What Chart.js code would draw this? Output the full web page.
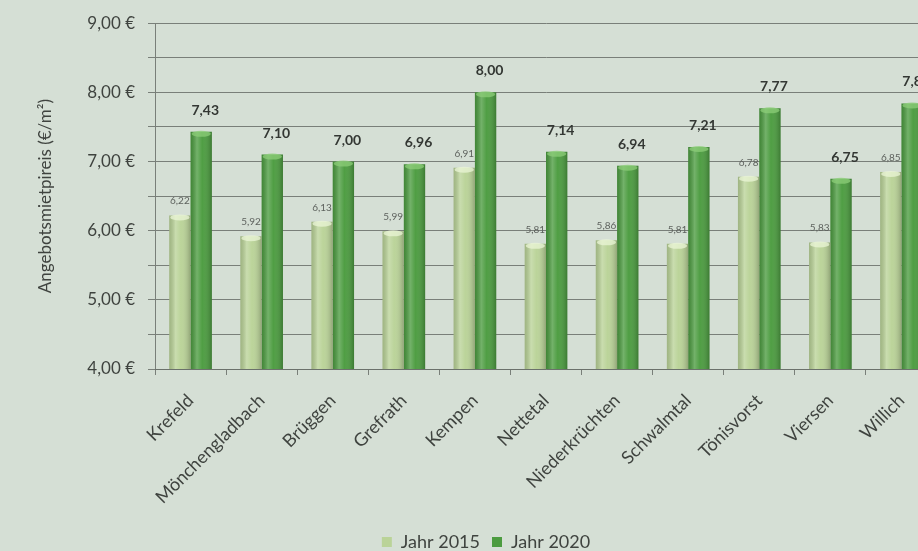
<!DOCTYPE html>
<html lang="de">
<head>
<meta charset="utf-8">
<title>Angebotsmietpreise 2015 und 2020</title>
<script src="https://cdn.jsdelivr.net/npm/chart.js@4.4.1/dist/chart.umd.min.js"></script>
<style>
  html, body { margin: 0; padding: 0; background: #d5dfd5; overflow: hidden; }
  #wrap { width: 994px; height: 551px; }
</style>
</head>
<body>
<div id="wrap"><canvas id="chart" width="994" height="551"></canvas></div>
<script>
// Gemeinden im Kreis Viersen und Nachbarstädte
const categories = ['Krefeld', 'Mönchengladbach', 'Brüggen', 'Grefrath', 'Kempen', 'Nettetal',
  'Niederkrüchten', 'Schwalmtal', 'Tönisvorst', 'Viersen', 'Willich'];

// Angebotsmietpreise in €/m²
const values2015 = [6.22, 5.92, 6.13, 5.99, 6.91, 5.81, 5.86, 5.81, 6.78, 5.83, 6.85];
const values2020 = [7.43, 7.10, 7.00, 6.96, 8.00, 7.14, 6.94, 7.21, 7.77, 6.75, 7.84];

const seriesNames = ['Jahr 2015', 'Jahr 2020'];
const yMajorTicks = [4, 5, 6, 7, 8, 9];

const FONT = 'Lato, "Open Sans", sans-serif';
const TEXT = '#3f433f';
const GRID = 'rgba(105,110,105,0.85)';

const fmt = v => v.toFixed(2).replace('.', ',');

// canvas background
const bgPlugin = {
  id: 'bg',
  beforeDraw(chart) {
    const c = chart.ctx;
    c.save();
    c.fillStyle = '#d5dfd5';
    c.fillRect(0, 0, chart.width, chart.height);
    c.restore();
  }
};

// rounded shading and light cap on every bar, then the value labels
const barDecor = {
  id: 'barDecor',
  afterDatasetsDraw(chart) {
    const c = chart.ctx;
    const bottom = chart.chartArea.bottom;
    c.save();
    chart.data.datasets.forEach((ds, di) => {
      const meta = chart.getDatasetMeta(di);
      meta.data.forEach(bar => {
        const w = bar.width;
        const left = bar.x - w / 2;
        const g = c.createLinearGradient(left, 0, left + w, 0);
        g.addColorStop(0, 'rgba(0,0,0,0.14)');
        g.addColorStop(0.3, 'rgba(255,255,255,0.22)');
        g.addColorStop(0.55, 'rgba(255,255,255,0.02)');
        g.addColorStop(1, 'rgba(0,0,0,0.22)');
        c.fillStyle = g;
        c.fillRect(left, bar.y, w, bottom - bar.y);
        c.beginPath();
        c.ellipse(bar.x, bar.y + 2, w / 2 - 1, 3, 0, 0, Math.PI * 2);
        c.fillStyle = di === 0 ? 'rgba(235,245,215,0.75)' : 'rgba(140,205,120,0.75)';
        c.fill();
      });
    });
    chart.data.datasets.forEach((ds, di) => {
      const meta = chart.getDatasetMeta(di);
      meta.data.forEach((bar, i) => {
        const v = ds.data[i];
        c.textAlign = 'center';
        c.textBaseline = 'alphabetic';
        if (di === 0) {
          c.font = '10px ' + FONT;
          c.fillStyle = '#5e625e';
          c.fillText(fmt(v), bar.x, bar.y - 11);
        } else {
          c.font = 'bold 14px ' + FONT;
          c.fillStyle = '#333733';
          c.fillText(fmt(v), bar.x + 4, bar.y - 17);
        }
      });
    });
    c.restore();
  }
};

new Chart(document.getElementById('chart'), {
  type: 'bar',
  data: {
    labels: categories,
    datasets: [
      { label: seriesNames[0], data: values2015, backgroundColor: '#bad398', borderWidth: 0 },
      { label: seriesNames[1], data: values2020, backgroundColor: '#4c9c40', borderWidth: 0 }
    ]
  },
  options: {
    responsive: false,
    animation: false,
    events: [],
    layout: { padding: { top: 13, left: 35, right: 57, bottom: -10 } },
    datasets: { bar: { categoryPercentage: 0.6, barPercentage: 1.0 } },
    plugins: {
      legend: {
        position: 'bottom',
        labels: {
          font: { family: FONT, size: 18 },
          color: TEXT,
          boxWidth: 10,
          boxHeight: 10,
          padding: 12
        }
      },
      tooltip: { enabled: false }
    },
    scales: {
      x: {
        grid: { display: true, drawOnChartArea: false, drawTicks: true, tickLength: 6, color: GRID, offset: true },
        border: { display: true, color: GRID },
        ticks: {
          font: { family: FONT, size: 18 },
          color: TEXT,
          minRotation: 45,
          maxRotation: 45,
          padding: 15
        },
        afterFit(scale) { scale.height = 152; }
      },
      y: {
        min: 4,
        max: 9,
        grid: { color: GRID, lineWidth: 1, drawTicks: true, tickLength: 7 },
        border: { display: true, color: GRID },
        ticks: {
          stepSize: 0.5,
          font: { family: FONT, size: 17 },
          color: TEXT,
          padding: 13,
          callback: v => yMajorTicks.includes(v) ? fmt(v) + ' €' : ''
        },
        title: {
          display: true,
          text: 'Angebotsmietpireis (€/m²)',
          font: { family: FONT, size: 17 },
          color: TEXT,
          padding: { top: 0, bottom: 0 }
        },
        afterFit(scale) { scale.width = 120; }
      }
    }
  },
  plugins: [bgPlugin, barDecor]
});
</script>
</body>
</html>
